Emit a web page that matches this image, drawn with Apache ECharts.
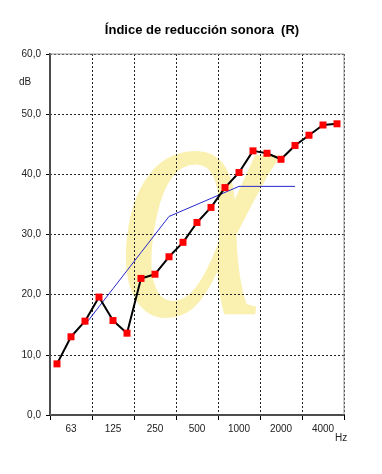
<!DOCTYPE html>
<html><head><meta charset="utf-8">
<script src="https://cdn.jsdelivr.net/npm/echarts@6/dist/echarts.min.js"></script>
<style>html,body{margin:0;padding:0;background:#fff}#c{width:382px;height:474px}</style>
</head><body><div id="c"></div>
<script>
const bands = ['50','63','80','100','125','160','200','250','315','400','500','630','800','1000','1250','1600','2000','2500','3150','4000','5000'];
const octaveLabels = ['63','125','250','500','1000','2000','4000'];
const measuredR = [8.5,13.0,15.6,19.6,15.7,13.6,22.7,23.4,26.3,28.7,32.0,34.5,37.8,40.3,43.9,43.5,42.5,44.8,46.5,48.2,48.4];
const referenceCurve = [null,null,15,18,21,24,27,30,33,34,35,36,37,38,38,38,38,38,null,null,null];
const yTicks = [0,10,20,30,40,50,60];

const chart = echarts.init(document.getElementById('c'));
const boundary = (i) => i % 3 === 0;
chart.setOption({
  animation: false,
  title: {
    text: 'Índice de reducción sonora  (R)',
    left: 197, top: 19, textAlign: 'center',
    textStyle: {fontFamily: 'Liberation Sans', fontSize: 13, fontWeight: 'bold', color: '#000'}
  },
  graphic: [
    {type: 'text', x: 117, y: 50, scaleX: 0.9, scaleY: 1.05, z: 0, silent: true,
     style: {text: 'α', font: 'italic 330px "Liberation Serif"', fill: 'rgba(245,228,110,0.55)'}},
    {type: 'text', left: 19, top: 77, style: {text: 'dB', font: '10px "Liberation Sans"', fill: '#222'}},
    {type: 'text', left: 335, top: 433, style: {text: 'Hz', font: '10px "Liberation Sans"', fill: '#222'}}
  ],
  grid: {left: 50, right: 38, top: 54, bottom: 59, show: true, borderColor: '#999', borderWidth: 1, z: 1},
  xAxis: {
    type: 'category', data: bands, boundaryGap: true,
    axisLine: {lineStyle: {color: '#000', width: 2}},
    axisTick: {show: true, interval: boundary, length: 5, inside: false, lineStyle: {color: '#000'}},
    splitLine: {show: true, interval: (i) => i % 3 === 0 && i > 0, lineStyle: {color: '#222', type: [2, 2], width: 1}},
    axisLabel: {
      interval: (i) => i % 3 === 1,
      formatter: (v) => octaveLabels.includes(v) ? v : '',
      margin: 9, fontFamily: 'Liberation Sans', fontSize: 10, color: '#222'
    }
  },
  yAxis: {
    type: 'value', min: yTicks[0], max: yTicks[yTicks.length - 1], interval: 10,
    axisLine: {show: true, lineStyle: {color: '#000', width: 2}},
    axisTick: {show: true, length: 4, lineStyle: {color: '#000'}},
    splitLine: {show: true, lineStyle: {color: '#222', type: [2, 2], width: 1}},
    axisLabel: {formatter: (v) => v.toFixed(1).replace('.', ','), margin: 9, fontFamily: 'Liberation Sans', fontSize: 10, color: '#222'}
  },
  series: [
    {type: 'line', data: referenceCurve, symbol: 'none', connectNulls: false,
     lineStyle: {color: '#2727cc', width: 1}, z: 3},
    {type: 'line', data: measuredR, symbol: 'rect', symbolSize: 7,
     itemStyle: {color: '#ff0000'}, lineStyle: {color: '#000', width: 2}, z: 4}
  ]
});
</script></body></html>
